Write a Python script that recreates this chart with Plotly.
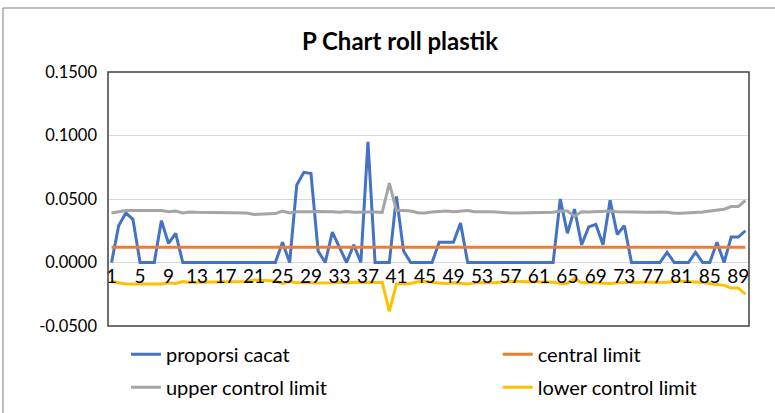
import plotly.graph_objects as go

samples = list(range(1, 91))

proporsi_cacat = [
    0, 0.029, 0.039, 0.034, 0, 0, 0, 0.033, 0.015, 0.023,
    0, 0, 0, 0, 0, 0, 0, 0, 0, 0,
    0, 0, 0, 0, 0.016, 0, 0.061, 0.071, 0.070, 0.009,
    0, 0.024, 0.012, 0, 0.014, 0, 0.095, 0, 0, 0,
    0.052, 0.009, 0, 0, 0, 0, 0.016, 0.016, 0.016, 0.031,
    0, 0, 0, 0, 0, 0, 0, 0, 0, 0,
    0, 0, 0, 0.050, 0.023, 0.042, 0.014, 0.028, 0.030, 0.014,
    0.049, 0.022, 0.029, 0, 0, 0, 0, 0, 0.008, 0,
    0, 0, 0.008, 0, 0, 0.016, 0, 0.020, 0.020, 0.025,
]

central_limit = [0.012] * 90

upper_control_limit = [
    0.0390, 0.0400, 0.0410, 0.0410, 0.0410, 0.0410, 0.0410, 0.0410, 0.0400, 0.0405,
    0.0390, 0.0398, 0.0395, 0.0395, 0.0393, 0.0393, 0.0393, 0.0390, 0.0390, 0.0390,
    0.0378, 0.0380, 0.0380, 0.0385, 0.0405, 0.0390, 0.0400, 0.0398, 0.0400, 0.0402,
    0.0402, 0.0400, 0.0395, 0.0402, 0.0395, 0.0398, 0.0398, 0.0398, 0.0395, 0.0625,
    0.0410, 0.0410, 0.0405, 0.0392, 0.0390, 0.0398, 0.0402, 0.0405, 0.0400, 0.0405,
    0.0410, 0.0400, 0.0402, 0.0400, 0.0398, 0.0393, 0.0390, 0.0390, 0.0390, 0.0392,
    0.0390, 0.0395, 0.0395, 0.0405, 0.0405, 0.0365, 0.0400, 0.0398, 0.0400, 0.0400,
    0.0405, 0.0400, 0.0398, 0.0395, 0.0392, 0.0395, 0.0395, 0.0398, 0.0395, 0.0388,
    0.0388, 0.0390, 0.0395, 0.0398, 0.0405, 0.0410, 0.0420, 0.0440, 0.0440, 0.0490,
]

lower_control_limit = [
    -0.0150, -0.0160, -0.0170, -0.0170, -0.0170, -0.0170, -0.0170, -0.0170, -0.0160, -0.0165,
    -0.0150, -0.0158, -0.0155, -0.0155, -0.0153, -0.0153, -0.0153, -0.0150, -0.0150, -0.0150,
    -0.0138, -0.0140, -0.0140, -0.0145, -0.0165, -0.0150, -0.0160, -0.0158, -0.0160, -0.0162,
    -0.0162, -0.0160, -0.0155, -0.0162, -0.0155, -0.0158, -0.0158, -0.0158, -0.0155, -0.0385,
    -0.0170, -0.0170, -0.0165, -0.0152, -0.0150, -0.0158, -0.0162, -0.0165, -0.0160, -0.0165,
    -0.0170, -0.0160, -0.0162, -0.0160, -0.0158, -0.0153, -0.0150, -0.0150, -0.0150, -0.0152,
    -0.0150, -0.0155, -0.0155, -0.0165, -0.0165, -0.0125, -0.0160, -0.0158, -0.0160, -0.0160,
    -0.0165, -0.0160, -0.0158, -0.0155, -0.0152, -0.0155, -0.0155, -0.0158, -0.0155, -0.0148,
    -0.0148, -0.0150, -0.0155, -0.0158, -0.0165, -0.0170, -0.0180, -0.0200, -0.0200, -0.0250,
]

y_ticks = [-0.05, 0.0, 0.05, 0.10, 0.15]
y_tick_labels = ["-0.0500", "0.0000", "0.0500", "0.1000", "0.1500"]

FONT = "Lato"
fig = go.Figure()

fig.add_trace(go.Scatter(x=samples, y=proporsi_cacat, mode="lines", name="proporsi cacat",
                         line=dict(color="#4472C4", width=3), legend="legend", legendgroup="a"))
fig.add_trace(go.Scatter(x=samples, y=central_limit, mode="lines", name="central limit",
                         line=dict(color="#ED7D31", width=3), legend="legend2", legendgroup="b"))
fig.add_trace(go.Scatter(x=samples, y=upper_control_limit, mode="lines", name="upper control limit",
                         line=dict(color="#A5A5A5", width=3), legend="legend", legendgroup="c"))
fig.add_trace(go.Scatter(x=samples, y=lower_control_limit, mode="lines", name="lower control limit",
                         line=dict(color="#FFC000", width=3), legend="legend2", legendgroup="d"))

legend_common = dict(orientation="v", yanchor="top", xanchor="left", y=-0.034,
                     font=dict(family=FONT, size=20, color="#000000"),
                     tracegroupgap=4, bgcolor="rgba(0,0,0,0)")

fig.update_layout(
    width=775, height=413,
    margin=dict(l=108, r=26, t=72, b=87, autoexpand=False),
    paper_bgcolor="white", plot_bgcolor="white",
    title=dict(text="<b>P Chart roll plastik</b>", x=400 / 775, xref="container", xanchor="center",
               y=1 - 42 / 413, yref="container", yanchor="middle",
               font=dict(family=FONT, size=24, color="#000000")),
    xaxis=dict(range=[0.5, 90.5], tick0=1, dtick=4, showgrid=False, zeroline=False,
               showline=False, ticks="", anchor="free", position=0.25,
               tickfont=dict(family=FONT, size=19, color="#000000")),
    yaxis=dict(range=[-0.05, 0.15], tickvals=y_ticks, ticktext=y_tick_labels,
               showgrid=True, gridcolor="#D9D9D9", gridwidth=1, zeroline=False,
               showline=False, ticks="", ticklabelstandoff=10,
               tickfont=dict(family=FONT, size=16.5, color="#000000")),
    legend=dict(x=0.028, **legend_common),
    legend2=dict(x=0.608, **legend_common),
    shapes=[
        dict(type="rect", xref="paper", yref="paper", x0=0, x1=1, y0=0, y1=1,
             line=dict(color="#404040", width=1.5), fillcolor="rgba(0,0,0,0)", layer="above"),
        dict(type="rect", xref="paper", yref="paper", x0=-0.1638, x1=1.06, y0=-0.4, y1=1.252,
             line=dict(color="#7F7F7F", width=1), fillcolor="rgba(0,0,0,0)"),
    ],
)

fig.write_html("out.html", config={"displayModeBar": False},
               post_script="document.body.style.margin='0';")
